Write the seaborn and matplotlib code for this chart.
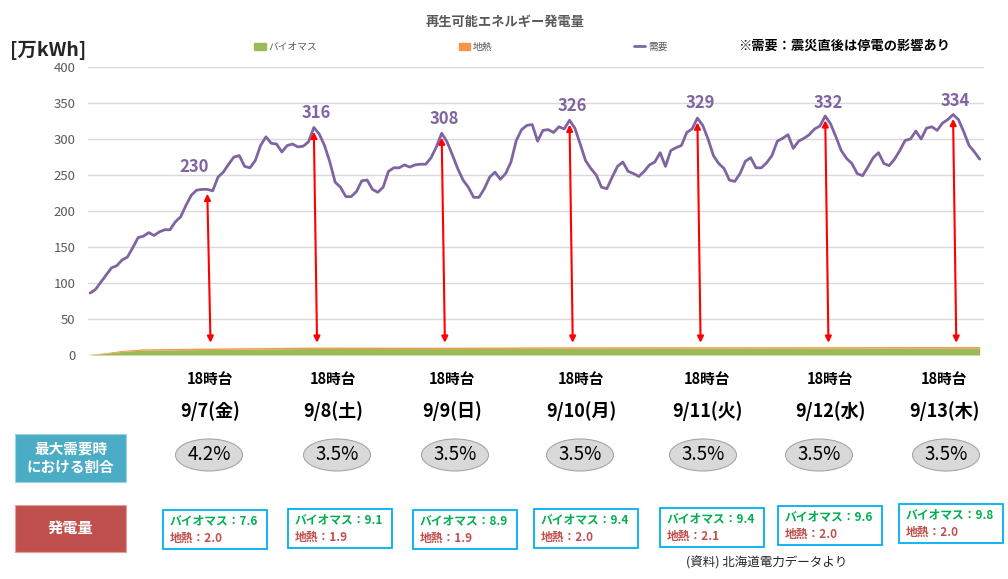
import numpy as np
import pandas as pd
import seaborn as sns
import matplotlib.pyplot as plt
from matplotlib.patches import Ellipse, Rectangle, Patch
from matplotlib.lines import Line2D

# hourly demand, 9/7 0時 .. 9/13 23時 (万kWh)
demand = [86, 91, 101, 111, 121, 124, 132, 136, 149, 163, 165, 170, 166, 171, 174, 174, 185, 192, 208, 222, 229, 230, 230, 228,
          247, 254, 265, 275, 277, 262, 260, 270, 291, 303, 294, 293, 282, 291, 293, 289, 290, 296, 316, 307, 291, 268, 240, 233,
          220, 220, 227, 242, 243, 230, 226, 233, 255, 260, 260, 264, 261, 264, 265, 265, 274, 289, 308, 296, 278, 259, 243, 233,
          219, 219, 231, 247, 254, 244, 252, 268, 298, 313, 319, 320, 297, 312, 313, 309, 317, 314, 326, 315, 293, 270, 259, 250,
          233, 231, 247, 262, 268, 255, 252, 248, 255, 264, 268, 281, 262, 284, 288, 291, 309, 314, 329, 319, 300, 277, 266, 259,
          243, 241, 252, 269, 274, 260, 260, 267, 277, 297, 301, 306, 287, 297, 301, 306, 314, 318, 332, 321, 303, 284, 273, 266,
          252, 249, 261, 274, 281, 266, 263, 272, 284, 298, 300, 311, 300, 315, 317, 312, 322, 327, 334, 327, 310, 291, 282, 272]
hours = list(range(len(demand)))

# renewable output sampled at a few hours
area_hours = [0, 3, 6, 10, 22, 42, 66, 90, 114, 138, 162, 167]
biomass_area = [0.5, 2.5, 5.0, 6.8, 7.6, 9.1, 8.9, 9.4, 9.4, 9.6, 9.8, 9.8]
geo_area = [0.3, 0.8, 1.4, 1.8, 2.0, 1.9, 1.9, 2.0, 2.1, 2.0, 2.0, 2.0]

days = ['9/7(金)', '9/8(土)', '9/9(日)', '9/10(月)', '9/11(火)', '9/12(水)', '9/13(木)']
peak_hours = [22, 42, 66, 90, 114, 138, 162]
peak_values = [230, 316, 308, 326, 329, 332, 334]
shares = ['4.2%', '3.5%', '3.5%', '3.5%', '3.5%', '3.5%', '3.5%']
biomass_peak = [7.6, 9.1, 8.9, 9.4, 9.4, 9.6, 9.8]
geo_peak = [2.0, 1.9, 1.9, 2.0, 2.1, 2.0, 2.0]
yticks = [0, 50, 100, 150, 200, 250, 300, 350, 400]

PURPLE = '#8064a2'
GREEN = '#9bbb59'
ORANGE = '#f79646'

W, H = 1008, 579

def fx(px):
    return px / W

def fy(py):
    return 1 - py / H

sns.set_style('white')
plt.rcParams['font.family'] = ['Noto Sans CJK JP', 'DejaVu Sans']

fig = plt.figure(figsize=(W / 100, H / 100), dpi=100)
ax = fig.add_axes([fx(88), fy(355), (984 - 88) / W, (355 - 67) / H])

ax.fill_between(area_hours, 0, biomass_area, color=GREEN, lw=0, zorder=2)
ax.fill_between(area_hours, biomass_area, np.add(biomass_area, geo_area), color=ORANGE, lw=0, zorder=2)

df = pd.DataFrame({'hour': hours, 'demand': demand})
sns.lineplot(data=df, x='hour', y='demand', color=PURPLE, lw=2, ax=ax, zorder=3)

ax.set_xlim(-0.4, 167.8)
ax.set_ylim(0, 400)
ax.set_yticks(yticks)
ax.set_xticks([])
ax.set_xlabel('')
ax.set_ylabel('')
ax.grid(axis='y', color='#d9d9d9', lw=1)
ax.tick_params(axis='y', length=0, pad=9, labelsize=9.5, labelcolor='#595959')
for s in ax.spines.values():
    s.set_visible(False)

# peak arrows and labels
label_dx = [-2.5, 0.5, 0.5, 0.5, 0.5, 0.5, 0.5]
label_dy = [18, 7, 7, 7, 9, 5, 6]
for h, v, dx, dy in zip(peak_hours, peak_values, label_dx, label_dy):
    ax.annotate('', xy=(h + 0.6, 17), xytext=(h, v - 6),
                arrowprops=dict(arrowstyle='<|-|>', color='red', lw=1.5,
                                mutation_scale=9, shrinkA=0, shrinkB=0), zorder=4)
    ax.text(h + dx, v + dy, str(v), ha='center', va='bottom', fontsize=12,
            fontweight='bold', color=PURPLE, zorder=5)

handles = [Patch(color=GREEN), Patch(color=ORANGE), Line2D([], [], color=PURPLE, lw=2)]
ax.legend(handles, ['バイオマス', '地熱', '需要'], loc='center', bbox_to_anchor=(fx(461), fy(47)),
          bbox_transform=fig.transFigure, ncol=3, frameon=False, fontsize=7, columnspacing=14.5,
          handlelength=1.2, handleheight=0.8, handletextpad=0.3, labelcolor='#595959')

fig.text(fx(505), fy(22), '再生可能エネルギー発電量', ha='center', va='center',
         fontsize=9.5, fontweight='bold', color='#595959')
fig.text(fx(10), fy(50), '[万kWh]', ha='left', va='center', fontsize=14,
         fontweight='bold', color='#262626')
fig.text(fx(738), fy(46), '※需要：震災直後は停電の影響あり', ha='left', va='center',
         fontsize=9.5, fontweight='bold', color='#000000')

# table below the chart
col_x = [210, 333, 452, 581, 707, 830, 944]
ell_x = [209, 337, 455, 580, 703, 819, 946]
box_left = [163, 288, 413, 534, 660, 778, 899]
box_top = [510, 509, 510, 509, 508, 506, 504]

for i, day in enumerate(days):
    fig.text(fx(col_x[i]), fy(379), '18時台', ha='center', va='center',
             fontsize=10.5, fontweight='bold', color='#000000')
    fig.text(fx(col_x[i]), fy(411), day, ha='center', va='center',
             fontsize=13, fontweight='bold', color='#000000')
    fig.add_artist(Ellipse((fx(ell_x[i]), fy(455)), 67 / W, 32 / H, transform=fig.transFigure,
                           fc='#d9d9d9', ec='#a6a6a6', lw=0.8))
    fig.text(fx(ell_x[i]), fy(455), shares[i], ha='center', va='center',
             fontsize=13.5, color='#000000')
    fig.add_artist(Rectangle((fx(box_left[i]), fy(box_top[i] + 39)), 104 / W, 39 / H,
                             transform=fig.transFigure, fc='white', ec='#00b0f0', lw=1.3))
    fig.text(fx(box_left[i] + 7), fy(box_top[i] + 11), f'バイオマス：{biomass_peak[i]:.1f}',
             ha='left', va='center', fontsize=8.5, fontweight='bold', color='#00b050')
    fig.text(fx(box_left[i] + 7), fy(box_top[i] + 28), f'地熱：{geo_peak[i]:.1f}',
             ha='left', va='center', fontsize=8.5, fontweight='bold', color='#c0504d')

fig.add_artist(Rectangle((fx(15), fy(482)), 111 / W, 48 / H, transform=fig.transFigure,
                         fc='#4bacc6', ec='#9fd3e3', lw=0.8))
fig.text(fx(70.5), fy(458), '最大需要時\nにおける割合', ha='center', va='center',
         fontsize=10.5, fontweight='bold', color='white', linespacing=1.15)
fig.add_artist(Rectangle((fx(15), fy(552)), 111 / W, 47 / H, transform=fig.transFigure,
                         fc='#c0504d', ec='#e0a09e', lw=0.8))
fig.text(fx(70.5), fy(528), '発電量', ha='center', va='center',
         fontsize=11, fontweight='bold', color='white')

fig.text(fx(767), fy(563), '(資料) 北海道電力データより', ha='center', va='center',
         fontsize=9, color='#262626')

fig.savefig('out.png', dpi=100)
